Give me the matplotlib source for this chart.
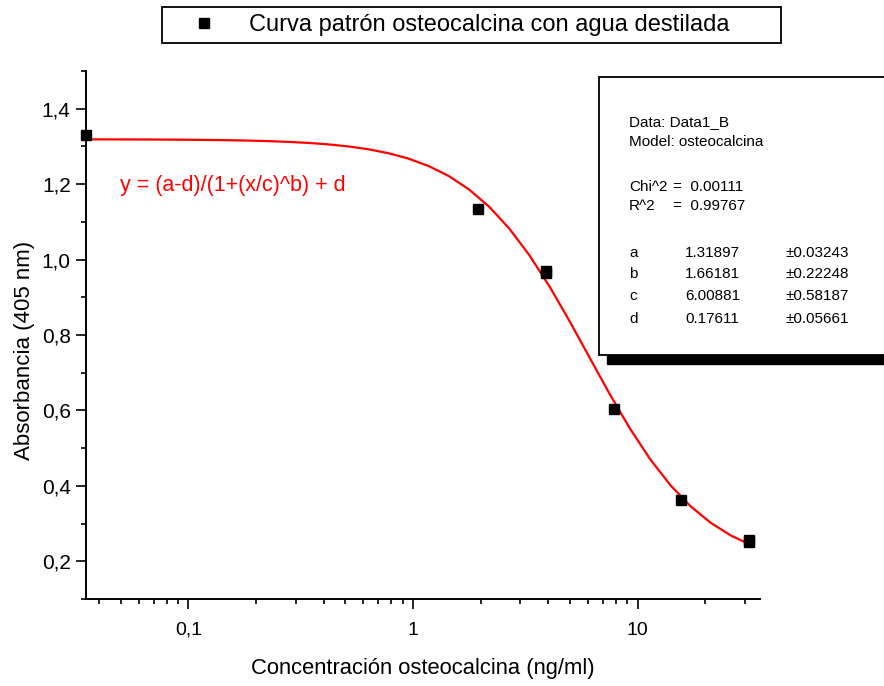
import numpy as np
import matplotlib
matplotlib.use("Agg")
import matplotlib.pyplot as plt
from matplotlib.ticker import FixedLocator, FixedFormatter, LogLocator, MultipleLocator, NullFormatter
from matplotlib.patches import Rectangle
from matplotlib.lines import Line2D

# Standard curve measurements
conc = [0.035, 1.95, 3.9, 3.9, 7.8, 15.6, 31.25, 31.25]
absorb = [1.331, 1.135, 0.970, 0.964, 0.605, 0.362, 0.257, 0.250]

# Logistic fit parameters
fit_a, fit_b, fit_c, fit_d = 1.31897, 1.66181, 6.00881, 0.17611
fit_err = ["±0.03243", "±0.22248", "±0.58187", "±0.05661"]
chi2_text = "0.00111"
r2_text = "0.99767"

x_ticks = [0.1, 1, 10]
x_ticklabels = ["0,1", "1", "10"]
y_ticks = [0.2, 0.4, 0.6, 0.8, 1.0, 1.2, 1.4]
y_ticklabels = ["0,2", "0,4", "0,6", "0,8", "1,0", "1,2", "1,4"]

legend_label = "Curva patrón osteocalcina con agua destilada"
x_label = "Concentración osteocalcina (ng/ml)"
y_label = "Absorbancia (405 nm)"
equation = "y = (a-d)/(1+(x/c)^b) + d"

W, H = 884, 686
plt.rcParams["font.family"] = ["Liberation Sans", "DejaVu Sans"]

fig = plt.figure(figsize=(W / 100, H / 100), dpi=100)
ax = fig.add_axes([86 / W, 1 - 599 / H, (760 - 86) / W, (599 - 71) / H])


def fpos(x, y):
    return x / W, 1 - y / H


# fitted curve sampled on a log grid
xf = np.geomspace(0.035, 32, 34)
yf = (fit_a - fit_d) / (1 + (xf / fit_c) ** fit_b) + fit_d
ax.plot(xf, yf, color="#ff0000", lw=1.6, zorder=2)

ax.plot(conc, absorb, "s", color="black", markersize=6.5,
        linestyle="none", clip_on=False, zorder=3)

ax.set_xscale("log")
ax.set_xlim(0.035, 35)
ax.set_ylim(0.1, 1.5)

ax.xaxis.set_major_locator(FixedLocator(x_ticks))
ax.xaxis.set_major_formatter(FixedFormatter(x_ticklabels))
ax.xaxis.set_minor_locator(LogLocator(base=10, subs=np.arange(2, 10)))
ax.xaxis.set_minor_formatter(NullFormatter())
ax.yaxis.set_major_locator(FixedLocator(y_ticks))
ax.yaxis.set_major_formatter(FixedFormatter(y_ticklabels))
ax.yaxis.set_minor_locator(MultipleLocator(0.1))

for s in ["top", "right"]:
    ax.spines[s].set_visible(False)
for s in ["left", "bottom"]:
    ax.spines[s].set_linewidth(1.4)

ax.tick_params(axis="both", which="major", direction="out", length=7.5, width=1.2, color="black")
ax.tick_params(axis="both", which="minor", direction="out", length=3.5, width=1.2, color="black")
ax.tick_params(axis="y", which="major", labelsize=15, pad=3.5)
ax.tick_params(axis="x", which="major", labelsize=14, pad=9)

ax.set_xlabel(x_label, fontsize=15.8)
ax.xaxis.set_label_coords(0.5, -0.112)
ax.set_ylabel(y_label, fontsize=16)
ax.yaxis.set_label_coords(-0.075, 0.47)

ax.text(0.0504, 0.784, equation, transform=ax.transAxes, color="#ff0000",
        fontsize=15.5, va="center", ha="left")

# legend box across the top
leg_x0, leg_y0 = fpos(162, 43)
leg_x1, leg_y1 = fpos(781, 7)
handle = Line2D([], [], marker="s", color="black", linestyle="none", markersize=6.5)
leg = fig.legend([handle], [legend_label], loc="upper left",
                 bbox_to_anchor=(leg_x0, leg_y0, leg_x1 - leg_x0, leg_y1 - leg_y0),
                 mode="expand", borderaxespad=0, fontsize=17, numpoints=1,
                 handlelength=2.96, handletextpad=0.43, borderpad=0.3,
                 fancybox=False, frameon=True, edgecolor="black", framealpha=1)
leg.get_frame().set_linewidth(1.3)

# fit statistics panel with drop shadow
sx0, sy0 = fpos(607, 364)
fig.add_artist(Rectangle((sx0, sy0), (900 - 607) / W, (364 - 85) / H,
                         transform=fig.transFigure, facecolor="black",
                         edgecolor="black", zorder=5))
bx0, by0 = fpos(599, 355)
fig.add_artist(Rectangle((bx0, by0), (900 - 599) / W, (355 - 77) / H,
                         transform=fig.transFigure, facecolor="white",
                         edgecolor="black", linewidth=1.3, zorder=6))

stat_fs = 11
col1, col_eq, col2, col3 = 629, 673, 685, 785


def stat_text(x, y, s):
    fx, fy = fpos(x, y)
    fig.text(fx, fy, s, fontsize=stat_fs, va="baseline", ha="left", zorder=7)


stat_text(col1, 126, "Data: Data1_B")
stat_text(col1, 146, "Model: osteocalcina")
stat_text(col1, 191, "Chi^2")
stat_text(col_eq, 191, "=  " + chi2_text)
stat_text(col1, 210, "R^2")
stat_text(col_eq, 210, "=  " + r2_text)
param_rows = [("a", fit_a), ("b", fit_b), ("c", fit_c), ("d", fit_d)]
param_baselines = [257, 278.5, 300, 323]
for (name, val), err, yb in zip(param_rows, fit_err, param_baselines):
    stat_text(col1, yb, name)
    stat_text(col2, yb, f"{val:.5f}")
    stat_text(col3, yb, err)

fig.savefig("out.png", dpi=100)
